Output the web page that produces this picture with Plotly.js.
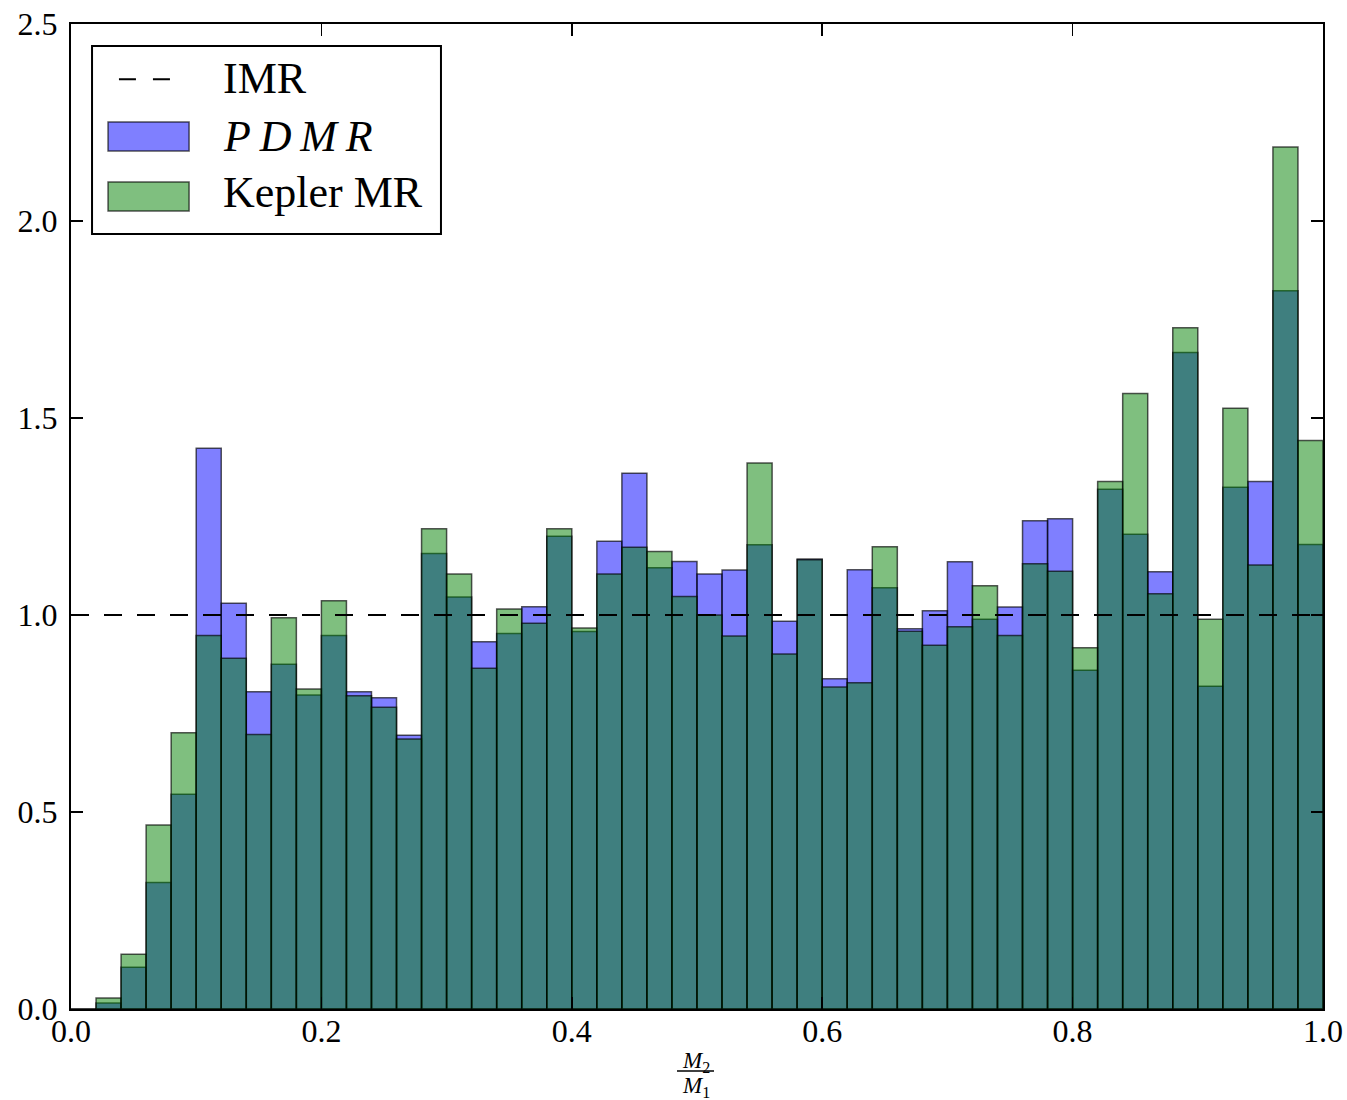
<!DOCTYPE html>
<html>
<head>
<meta charset="utf-8">
<script src="https://cdn.plot.ly/plotly-3.0.1.min.js"></script>
<style>html,body{margin:0;padding:0;background:#fff;}</style>
</head>
<body>
<div id="chart" style="width:1347px;height:1100px;"></div>
<script>
// Histogram: 50 bins of width 0.02 on [0, 1]
const binStart = 0.0;
const binWidth = 0.02;

const pdmr = [
  0.000, 0.015, 0.106, 0.321, 0.545, 1.423, 1.030, 0.805, 0.875, 0.797,
  0.948, 0.805, 0.790, 0.695, 1.156, 1.046, 0.932, 0.953, 1.021, 1.200,
  0.958, 1.187, 1.360, 1.120, 1.136, 1.104, 1.114, 1.178, 0.984, 1.142,
  0.838, 1.115, 1.069, 0.965, 1.011, 1.135, 0.989, 1.020, 1.239, 1.244,
  0.860, 1.319, 1.205, 1.110, 1.666, 0.819, 1.324, 1.339, 1.823, 1.179
];

const keplerMR = [
  0.000, 0.028, 0.139, 0.467, 0.701, 0.948, 0.890, 0.697, 0.993, 0.812,
  1.036, 0.795, 0.766, 0.685, 1.219, 1.104, 0.865, 1.015, 0.979, 1.219,
  0.967, 1.104, 1.172, 1.161, 1.047, 1.000, 0.947, 1.386, 0.901, 1.140,
  0.817, 0.828, 1.173, 0.959, 0.923, 0.970, 1.074, 0.948, 1.130, 1.111,
  0.917, 1.339, 1.562, 1.054, 1.729, 0.989, 1.525, 1.127, 2.188, 1.443
];

const imrX = [0, 1];
const imrY = [1, 1];

const xTicks = [0, 0.2, 0.4, 0.6, 0.8, 1.0];
const xTickLabels = ["0.0", "0.2", "0.4", "0.6", "0.8", "1.0"];
const yTicks = [0, 0.5, 1.0, 1.5, 2.0, 2.5];
const yTickLabels = ["0.0", "0.5", "1.0", "1.5", "2.0", "2.5"];

const legendNames = ["IMR", "<i>P\u2009D\u2009M\u2009R</i>", "Kepler MR"];

const binCenters = pdmr.map((_, i) => binStart + binWidth * (i + 0.5));

const FONT = "Liberation Serif, DejaVu Serif, serif";
const edge = {color: "rgba(0,0,0,0.65)", width: 1.5};

const traces = [
  {
    type: "bar", name: "PDMR", x: binCenters, y: pdmr, width: binWidth,
    marker: {color: "rgba(0,0,255,0.5)", line: edge},
    hoverinfo: "skip", showlegend: false
  },
  {
    type: "bar", name: "Kepler MR", x: binCenters, y: keplerMR, width: binWidth,
    marker: {color: "rgba(0,128,0,0.5)", line: edge},
    hoverinfo: "skip", showlegend: false
  },
  {
    type: "scatter", mode: "lines", name: "IMR", x: imrX, y: imrY,
    line: {color: "#000", width: 2, dash: "18px,15px"},
    hoverinfo: "skip", showlegend: false
  }
];

// legend geometry (paper coords)
const lgX0 = 0.0168, lgX1 = 0.2955, lgY0 = 0.7868, lgY1 = 0.9777;
const patchX0 = 0.0296, patchX1 = 0.0943;
const textX = 0.1198;

const shapes = [
  {type: "rect", xref: "paper", yref: "paper", x0: lgX0, x1: lgX1, y0: lgY0, y1: lgY1,
   fillcolor: "#fff", line: {color: "#000", width: 2}},
  {type: "line", xref: "paper", yref: "paper", x0: 0.0383, x1: 0.0791, y0: 0.9438, y1: 0.9438,
   line: {color: "#000", width: 2, dash: "17px,17px"}},
  {type: "rect", xref: "paper", yref: "paper", x0: patchX0, x1: patchX1, y0: 0.8711, y1: 0.9005,
   fillcolor: "rgba(0,0,255,0.5)", line: edge},
  {type: "rect", xref: "paper", yref: "paper", x0: patchX0, x1: patchX1, y0: 0.8102, y1: 0.8396,
   fillcolor: "rgba(0,128,0,0.5)", line: edge},
  // fraction bar of the x-axis label
  {type: "line", xref: "paper", yref: "paper", x0: (677 - 71) / 1252, x1: (714 - 71) / 1252,
   y0: -0.0629, y1: -0.0629, line: {color: "#000", width: 1.5}}
];

const annotations = [
  {xref: "paper", yref: "paper", x: textX, y: 0.9442, xanchor: "left", yanchor: "middle",
   text: legendNames[0], showarrow: false, font: {family: FONT, size: 44, color: "#000"}},
  {xref: "paper", yref: "paper", x: textX, y: 0.8855, xanchor: "left", yanchor: "middle",
   text: legendNames[1], showarrow: false, font: {family: FONT, size: 44, color: "#000"}},
  {xref: "paper", yref: "paper", x: textX, y: 0.8290, xanchor: "left", yanchor: "middle",
   text: legendNames[2], showarrow: false, font: {family: FONT, size: 44, color: "#000"}},
  {xref: "paper", yref: "paper", x: (696 - 71) / 1252, y: -0.0540, xanchor: "center", yanchor: "middle",
   text: "<i>M</i><sub>2</sub>", showarrow: false, font: {family: FONT, size: 23, color: "#000"}},
  {xref: "paper", yref: "paper", x: (696 - 71) / 1252, y: -0.0790, xanchor: "center", yanchor: "middle",
   text: "<i>M</i><sub>1</sub>", showarrow: false, font: {family: FONT, size: 23, color: "#000"}}
];

const axisCommon = {
  showgrid: false, zeroline: false, showline: true, linecolor: "#000", linewidth: 2,
  mirror: "ticks", ticks: "inside", ticklen: 12, tickwidth: 1.5, tickcolor: "#000",
  tickfont: {family: FONT, size: 32, color: "#000"}, fixedrange: true
};

const layout = {
  width: 1347, height: 1100,
  margin: {l: 71, r: 24, t: 24, b: 91, pad: 0},
  paper_bgcolor: "#fff", plot_bgcolor: "#fff",
  barmode: "overlay", bargap: 0,
  showlegend: false,
  xaxis: Object.assign({}, axisCommon, {
    range: [0, 1], tickmode: "array", tickvals: xTicks, ticktext: xTickLabels,
    ticklabelstandoff: -7
  }),
  yaxis: Object.assign({}, axisCommon, {
    range: [0, 2.5], tickmode: "array", tickvals: yTicks, ticktext: yTickLabels,
    ticklabelstandoff: 5
  }),
  shapes: shapes,
  annotations: annotations
};

Plotly.newPlot("chart", traces, layout, {displayModeBar: false, staticPlot: true});
</script>
</body>
</html>
